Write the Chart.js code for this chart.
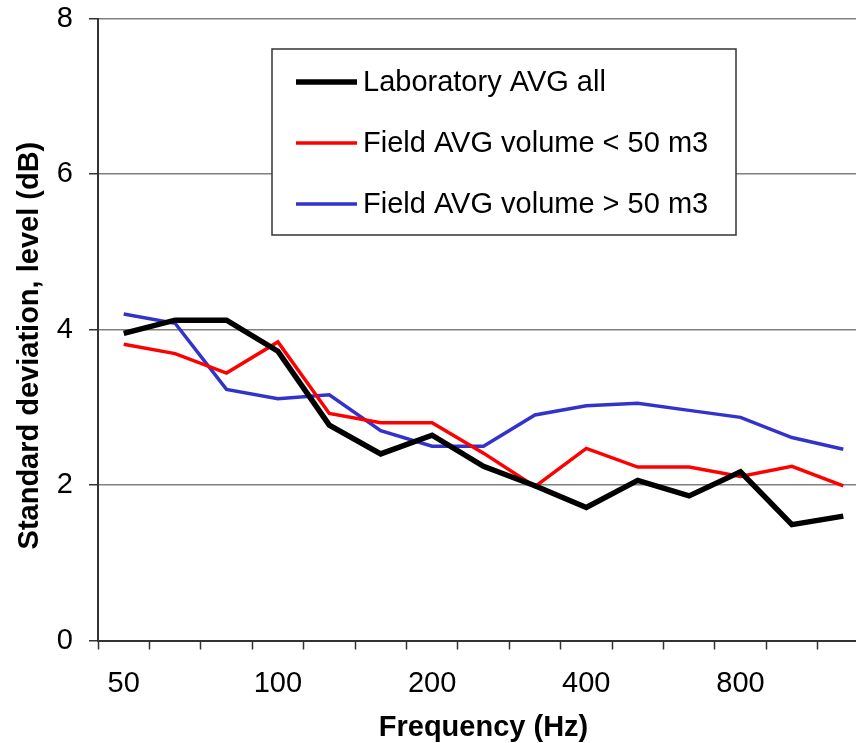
<!DOCTYPE html>
<html>
<head>
<meta charset="utf-8">
<script src="https://cdn.jsdelivr.net/npm/chart.js@4"></script>
<style>
  html, body { margin: 0; padding: 0; overflow: hidden; background: #fff; }
  #wrap { position: absolute; left: 0; top: 0; width: 870px; height: 743px; }
</style>
</head>
<body>
<div id="wrap"><canvas id="myChart"></canvas></div>
<script>
const ctx = document.getElementById('myChart').getContext('2d');

// third-octave bands, only every third one is labelled
const freqs = ['50', '63', '80', '100', '125', '160', '200', '250', '315', '400', '500', '630', '800', '1000', '1250'];
const tickLabels = ['50', '', '', '100', '', '', '200', '', '', '400', '', '', '800', '', ''];

const labAll = [3.95, 4.12, 4.12, 3.72, 2.77, 2.40, 2.64, 2.24, 1.99, 1.71, 2.06, 1.86, 2.17, 1.49, 1.60];
const fieldSmall = [3.81, 3.69, 3.44, 3.84, 2.92, 2.80, 2.80, 2.41, 1.98, 2.47, 2.23, 2.23, 2.11, 2.24, 1.99];
const fieldLarge = [4.20, 4.08, 3.23, 3.11, 3.16, 2.70, 2.50, 2.50, 2.90, 3.02, 3.05, 2.96, 2.87, 2.61, 2.46];

const FONT = 'Arial, "Liberation Sans", sans-serif';

// legend box drawn inside the plot area
const boxLegend = {
    id: 'boxLegend',
    afterDatasetsDraw(chart) {
        const c = chart.ctx;
        const x0 = 272, y0 = 49, w = 464, h = 186;
        c.save();
        c.fillStyle = '#fff';
        c.fillRect(x0, y0, w, h);
        c.strokeStyle = '#333';
        c.lineWidth = 1.5;
        c.strokeRect(x0, y0, w, h);
        c.font = '29px ' + FONT;
        c.textBaseline = 'middle';
        chart.data.datasets.forEach((ds, i) => {
            const y = y0 + 33 + i * 61;
            c.strokeStyle = ds.borderColor;
            c.lineWidth = ds.borderWidth;
            c.beginPath();
            c.moveTo(x0 + 24, y);
            c.lineTo(x0 + 85, y);
            c.stroke();
            c.fillStyle = '#000';
            c.fillText(ds.label, x0 + 91, y + 1);
        });
        c.restore();
    }
};

const myChart = new Chart(ctx, {
    type: 'line',
    data: {
        labels: freqs,
        datasets: [
            {
                label: 'Laboratory AVG all',
                data: labAll,
                borderColor: '#000000',
                borderWidth: 5.5,
                pointRadius: 0,
                tension: 0
            },
            {
                label: 'Field AVG volume < 50 m3',
                data: fieldSmall,
                borderColor: '#ff0000',
                borderWidth: 3.5,
                pointRadius: 0,
                tension: 0
            },
            {
                label: 'Field AVG volume > 50 m3',
                data: fieldLarge,
                borderColor: '#3333cc',
                borderWidth: 3.5,
                pointRadius: 0,
                tension: 0
            }
        ]
    },
    options: {
        responsive: true,
        maintainAspectRatio: false,
        animation: false,
        layout: {
            padding: { top: 18.5, right: 1, left: 0, bottom: 0 }
        },
        plugins: {
            legend: { display: false },
            tooltip: { enabled: false }
        },
        scales: {
            x: {
                offset: true,
                afterFit: (scale) => {
                    scale.height = 102.5;
                    scale.paddingLeft = 0;
                    scale.paddingRight = 0;
                },
                grid: {
                    offset: true,
                    drawOnChartArea: false,
                    drawTicks: true,
                    tickLength: 9,
                    tickColor: '#333',
                    tickWidth: 1.5
                },
                border: { color: '#333', width: 2 },
                ticks: {
                    autoSkip: false,
                    maxRotation: 0,
                    padding: 17,
                    color: '#000',
                    font: { family: FONT, size: 29 },
                    callback: (v, i) => tickLabels[i]
                },
                title: {
                    display: true,
                    text: 'Frequency (Hz)',
                    color: '#000',
                    padding: { top: 0, bottom: 0.5 },
                    font: { family: FONT, size: 29, weight: 'bold', lineHeight: 1 }
                }
            },
            y: {
                min: 0,
                max: 8,
                afterFit: (scale) => {
                    scale.width = 98;
                    scale.paddingTop = 0;
                    scale.paddingBottom = 0;
                },
                grid: {
                    color: '#808080',
                    lineWidth: 1.5,
                    drawTicks: true,
                    tickLength: 9,
                    tickColor: '#333'
                },
                border: { color: '#333', width: 2 },
                ticks: {
                    stepSize: 2,
                    padding: 16,
                    color: '#000',
                    font: { family: FONT, size: 29 }
                },
                title: {
                    display: true,
                    text: 'Standard deviation, level (dB)    ',
                    color: '#000',
                    padding: { top: 13, bottom: 0 },
                    font: { family: FONT, size: 29, weight: 'bold', lineHeight: 1.2 }
                }
            }
        }
    },
    plugins: [boxLegend]
});
</script>
</body>
</html>
